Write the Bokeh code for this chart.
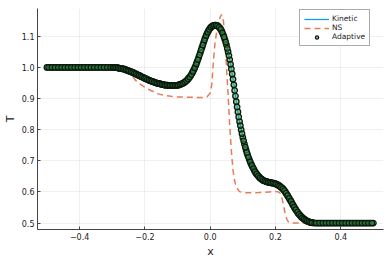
from bokeh.plotting import figure
from bokeh.models import Range1d, Legend, LegendItem, FixedTicker
from bokeh.embed import file_html
from bokeh.resources import INLINE

# ---------------- data ----------------
flat_left_x = [-0.50, -0.49, -0.48, -0.47, -0.46, -0.45, -0.44, -0.43, -0.42, -0.41,
               -0.40, -0.39, -0.38, -0.37, -0.36, -0.35, -0.34, -0.33, -0.32, -0.31, -0.30]
flat_left_t = [1.0, 1.0, 1.0, 1.0, 1.0, 1.0, 1.0, 1.0, 1.0, 1.0,
               1.0, 1.0, 1.0, 1.0, 1.0, 1.0, 1.0, 1.0, 1.0, 1.0, 1.0]
flat_left2_x = [-0.495, -0.485, -0.475, -0.465, -0.455, -0.445, -0.435, -0.425, -0.415, -0.405,
                -0.395, -0.385, -0.375, -0.365, -0.355, -0.345, -0.335, -0.325, -0.315, -0.305]
flat_left2_t = [1.0, 1.0, 1.0, 1.0, 1.0, 1.0, 1.0, 1.0, 1.0, 1.0,
                1.0, 1.0, 1.0, 1.0, 1.0, 1.0, 1.0, 1.0, 1.0, 1.0]

mid_x = [-0.295, -0.290, -0.285, -0.280, -0.275, -0.270, -0.265, -0.260, -0.255, -0.250,
         -0.245, -0.240, -0.235, -0.230, -0.225, -0.220, -0.215, -0.210, -0.205, -0.200,
         -0.195, -0.190, -0.185, -0.180, -0.175, -0.170, -0.165, -0.160, -0.155, -0.150,
         -0.145, -0.140, -0.135, -0.130, -0.125, -0.120, -0.115, -0.110, -0.105, -0.100,
         -0.095, -0.090, -0.085, -0.080, -0.075, -0.070, -0.065, -0.060, -0.055, -0.050,
         -0.045, -0.040, -0.035, -0.030, -0.025, -0.020, -0.015, -0.010, -0.005, 0.000,
         0.005, 0.010, 0.015, 0.020, 0.025, 0.030, 0.035, 0.040, 0.045, 0.050,
         0.055, 0.060, 0.065, 0.070, 0.075, 0.080, 0.085, 0.090, 0.095, 0.100,
         0.105, 0.110, 0.115, 0.120, 0.125, 0.130, 0.135, 0.140, 0.145, 0.150,
         0.155, 0.160, 0.165, 0.170, 0.175, 0.180, 0.185, 0.190, 0.195, 0.200,
         0.205, 0.210, 0.215, 0.220, 0.225, 0.230, 0.235, 0.240, 0.245, 0.250,
         0.255, 0.260, 0.265, 0.270, 0.275, 0.280, 0.285, 0.290, 0.295, 0.300,
         0.305, 0.310, 0.315]
mid_t = [1.000, 0.999, 0.999, 0.998, 0.997, 0.996, 0.995, 0.993, 0.991, 0.989,
         0.987, 0.985, 0.983, 0.980, 0.978, 0.975, 0.973, 0.970, 0.968, 0.965,
         0.963, 0.960, 0.958, 0.956, 0.954, 0.952, 0.950, 0.949, 0.948, 0.946,
         0.945, 0.944, 0.943, 0.943, 0.942, 0.942, 0.942, 0.942, 0.942, 0.943,
         0.944, 0.946, 0.948, 0.951, 0.955, 0.960, 0.966, 0.973, 0.982, 0.992,
         1.004, 1.018, 1.033, 1.048, 1.064, 1.080, 1.095, 1.108, 1.118, 1.126,
         1.131, 1.134, 1.136, 1.135, 1.132, 1.126, 1.117, 1.105, 1.090, 1.072,
         1.050, 1.025, 0.995, 0.962, 0.926, 0.890, 0.857, 0.826, 0.800, 0.775,
         0.754, 0.735, 0.718, 0.704, 0.691, 0.680, 0.670, 0.661, 0.654, 0.648,
         0.643, 0.639, 0.636, 0.634, 0.632, 0.631, 0.630, 0.629, 0.628, 0.626,
         0.624, 0.621, 0.617, 0.613, 0.607, 0.600, 0.592, 0.583, 0.574, 0.565,
         0.556, 0.547, 0.539, 0.531, 0.525, 0.519, 0.515, 0.511, 0.508, 0.505,
         0.503, 0.502, 0.501]

# adaptive points in between the main ones
mid2_x = [-0.2975, -0.2925, -0.2875, -0.2825, -0.2775, -0.2725, -0.2675, -0.2625, -0.2575, -0.2525,
          -0.2475, -0.2425, -0.2375, -0.2325, -0.2275, -0.2225, -0.2175, -0.2125, -0.2075, -0.2025,
          -0.1975, -0.1925, -0.1875, -0.1825, -0.1775, -0.1725, -0.1675, -0.1625, -0.1575, -0.1525,
          -0.1475, -0.1425, -0.1375, -0.1325, -0.1275, -0.1225, -0.1175, -0.1125, -0.1075, -0.1025,
          -0.0975, -0.0925, -0.0875, -0.0825, -0.0775, -0.0725, -0.0675, -0.0625, -0.0575, -0.0525,
          -0.0475, -0.0425, -0.0375, -0.0325, -0.0275, -0.0225, -0.0175, -0.0125, -0.0075, -0.0025,
          0.0025, 0.0075, 0.0125, 0.0175, 0.0225, 0.0275,
          0.0325, 0.0375, 0.0425, 0.0475, 0.0525, 0.0575, 0.0625, 0.0675, 0.0725, 0.0775,
          0.0825, 0.0875, 0.0925, 0.0975, 0.1025, 0.1075, 0.1125, 0.1175, 0.1225, 0.1275,
          0.1325, 0.1375, 0.1425, 0.1475,
          0.1525, 0.1575, 0.1625, 0.1675, 0.1725, 0.1775, 0.1825, 0.1875, 0.1925, 0.1975,
          0.2025, 0.2075, 0.2125, 0.2175, 0.2225, 0.2275, 0.2325, 0.2375, 0.2425, 0.2475,
          0.2525, 0.2575, 0.2625, 0.2675, 0.2725, 0.2775, 0.2825, 0.2875, 0.2925, 0.2975,
          0.3025, 0.3075, 0.3125]
mid2_t = [1.000, 0.999, 0.999, 0.998, 0.997, 0.996, 0.995, 0.994, 0.992, 0.990,
          0.988, 0.986, 0.984, 0.981, 0.979, 0.976, 0.974, 0.971, 0.969, 0.966,
          0.964, 0.961, 0.959, 0.957, 0.955, 0.953, 0.951, 0.949, 0.948, 0.947,
          0.945, 0.944, 0.943, 0.943, 0.942, 0.942, 0.942, 0.942, 0.942, 0.942,
          0.943, 0.945, 0.947, 0.949, 0.953, 0.957, 0.963, 0.969, 0.977, 0.987,
          0.998, 1.011, 1.025, 1.040, 1.056, 1.072, 1.088, 1.102, 1.113, 1.122,
          1.129, 1.133, 1.135, 1.136, 1.134, 1.129,
          1.122, 1.111, 1.098, 1.081, 1.061, 1.038, 1.010, 0.979, 0.944, 0.908,
          0.873, 0.841, 0.813, 0.787, 0.764, 0.744, 0.726, 0.711, 0.697, 0.685,
          0.675, 0.665, 0.657, 0.651,
          0.645, 0.641, 0.637, 0.635, 0.633, 0.631, 0.630, 0.629, 0.628, 0.627,
          0.625, 0.622, 0.619, 0.615, 0.610, 0.604, 0.596, 0.588, 0.579, 0.570,
          0.560, 0.551, 0.543, 0.535, 0.528, 0.522, 0.517, 0.513, 0.509, 0.506,
          0.504, 0.502, 0.501]

flat_right_x = [0.32, 0.33, 0.34, 0.35, 0.36, 0.37, 0.38, 0.39, 0.40, 0.41,
                0.42, 0.43, 0.44, 0.45, 0.46, 0.47, 0.48, 0.49, 0.50]
flat_right_t = [0.5, 0.5, 0.5, 0.5, 0.5, 0.5, 0.5, 0.5, 0.5, 0.5,
                0.5, 0.5, 0.5, 0.5, 0.5, 0.5, 0.5, 0.5, 0.5]
flat_right2_x = [0.325, 0.335, 0.345, 0.355, 0.365, 0.375, 0.385, 0.395, 0.405,
                 0.415, 0.425, 0.435, 0.445, 0.455, 0.465, 0.475, 0.485, 0.495]
flat_right2_t = [0.5, 0.5, 0.5, 0.5, 0.5, 0.5, 0.5, 0.5, 0.5,
                 0.5, 0.5, 0.5, 0.5, 0.5, 0.5, 0.5, 0.5, 0.5]

ns_x = [-0.50, -0.30, -0.26, -0.25, -0.24, -0.23, -0.22, -0.21, -0.20, -0.18,
        -0.16, -0.14, -0.12, -0.10, -0.06, -0.02, -0.01, 0.000, 0.005, 0.010,
        0.015, 0.020, 0.025, 0.030, 0.035, 0.040, 0.045, 0.050, 0.055, 0.060,
        0.065, 0.070, 0.075, 0.080, 0.090, 0.100, 0.120, 0.150, 0.180, 0.200,
        0.210, 0.215, 0.220, 0.225, 0.230, 0.235, 0.240, 0.250, 0.260, 0.300, 0.500]
ns_t = [1.000, 1.000, 0.998, 0.990, 0.975, 0.960, 0.950, 0.943, 0.936, 0.925,
        0.915, 0.910, 0.907, 0.905, 0.904, 0.903, 0.905, 0.918, 0.945, 1.020,
        1.080, 1.115, 1.140, 1.160, 1.170, 1.155, 1.100, 1.000, 0.910, 0.810,
        0.730, 0.670, 0.635, 0.615, 0.601, 0.598, 0.597, 0.598, 0.600, 0.601,
        0.600, 0.595, 0.580, 0.555, 0.530, 0.512, 0.503, 0.500, 0.500, 0.500, 0.500]

x_ticks = [-0.4, -0.2, 0.0, 0.2, 0.4]
x_tick_labels = ["\u22120.4", "\u22120.2", "0.0", "0.2", "0.4"]
y_ticks = [0.5, 0.6, 0.7, 0.8, 0.9, 1.0, 1.1]
y_tick_labels = ["0.5", "0.6", "0.7", "0.8", "0.9", "1.0", "1.1"]

kin_x = flat_left_x + mid_x + flat_right_x
kin_t = flat_left_t + mid_t + flat_right_t
ad_x = flat_left_x + flat_left2_x + mid_x + mid2_x + flat_right_x + flat_right2_x
ad_t = flat_left_t + flat_left2_t + mid_t + mid2_t + flat_right_t + flat_right2_t

# ---------------- figure ----------------
FONT = "DejaVu Sans"
p = figure(width=390, height=260, output_backend="svg", toolbar_location=None,
           x_range=Range1d(-0.529, 0.531), y_range=Range1d(0.4793, 1.1892),
           min_border_left=36, min_border_right=7, min_border_top=8, min_border_bottom=29)
p.outline_line_color = None
p.background_fill_color = "white"
p.border_fill_color = "white"

r_kin = p.line(kin_x, kin_t, line_color="#009af9", line_width=1.2)
r_ns = p.line(ns_x, ns_t, line_color="#e26f46", line_alpha=0.9, line_width=1.5, line_dash="6 4")
r_ad = p.scatter(ad_x, ad_t, size=5.5, fill_color="#3da44d", fill_alpha=0.55,
                 line_color="#0b1a0e", line_alpha=1.0, line_width=1.3)

p.xaxis.ticker = FixedTicker(ticks=x_ticks)
p.yaxis.ticker = FixedTicker(ticks=y_ticks)
p.xaxis.major_label_overrides = dict(zip(x_ticks, x_tick_labels))
p.yaxis.major_label_overrides = dict(zip(y_ticks, y_tick_labels))
p.xaxis.axis_label = "x"
p.yaxis.axis_label = "T"

for ax in (p.xaxis, p.yaxis):
    ax.major_label_text_font = FONT
    ax.major_label_text_font_size = "8px"
    ax.major_label_text_color = "#222222"
    ax.axis_label_text_font = FONT
    ax.axis_label_text_font_size = "11px"
    ax.axis_label_text_font_style = "normal"
    ax.axis_label_text_color = "#222222"
    ax.axis_line_color = "#444444"
    ax.axis_line_width = 1
    ax.major_tick_in = 3
    ax.major_tick_out = 0
    ax.major_tick_line_color = "#444444"
    ax.minor_tick_line_color = None
    ax.major_label_standoff = 3
    ax.axis_label_standoff = 2

p.grid.grid_line_color = "black"
p.grid.grid_line_alpha = 0.1
p.grid.grid_line_width = 0.6

legend = Legend(items=[LegendItem(label="Kinetic", renderers=[r_kin]),
                       LegendItem(label="NS", renderers=[r_ns]),
                       LegendItem(label="Adaptive", renderers=[r_ad])],
                location=(262, 183))
legend.margin = 0
legend.padding = 4
legend.spacing = 0
legend.label_text_font = FONT
legend.label_text_font_size = "7.5px"
legend.label_text_color = "#222222"
legend.label_height = 8
legend.glyph_height = 8
legend.glyph_width = 25
legend.label_standoff = 3
legend.border_line_color = "#555555"
legend.border_line_width = 1
legend.background_fill_alpha = 1
p.add_layout(legend)

open("out.html", "w").write(file_html(p, INLINE))
